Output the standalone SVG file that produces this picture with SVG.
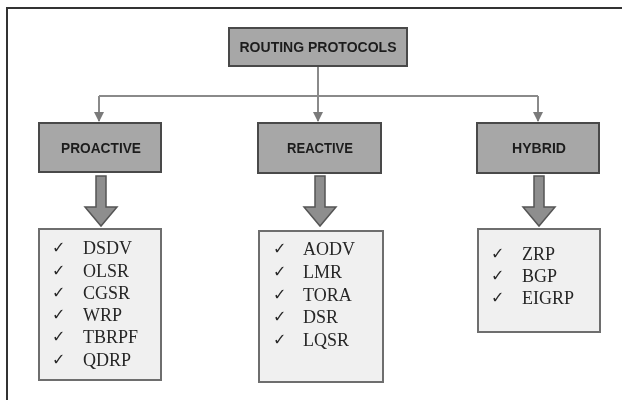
<svg xmlns="http://www.w3.org/2000/svg" width="622" height="403" viewBox="0 0 622 403">
  <defs>
    <marker id="tip" viewBox="0 0 10 10" refX="9" refY="5" markerWidth="5" markerHeight="5" orient="auto" markerUnits="strokeWidth">
      <path d="M0,0 L10,5 L0,10 z" fill="#7a7a7a"/>
    </marker>
    <filter id="soft" x="-5%" y="-5%" width="110%" height="110%">
      <feGaussianBlur stdDeviation="0.35"/>
    </filter>
  </defs>
  <style>
    .frame { stroke: #333; stroke-width: 2; fill: none; }
    .head { fill: #a7a7a7; stroke: #4a4a4a; stroke-width: 2; }
    .headtxt { font-family: "Liberation Sans", Arial, sans-serif; font-weight: bold; font-size: 14px; fill: #1e1e1e; text-anchor: middle; }
    .list { fill: #f0f0f0; stroke: #6e6e6e; stroke-width: 2; }
    .item { font-family: "Liberation Serif", "Times New Roman", serif; font-size: 18px; fill: #262626; }
    .tick { font-family: "DejaVu Sans", sans-serif; font-size: 16px; font-weight: bold; fill: #262626; }
    .link { stroke: #8a8a8a; stroke-width: 2; fill: none; }
    .fat { fill: #8e8e8e; stroke: #555; stroke-width: 1.5; }
  </style>

  <rect width="622" height="403" fill="#ffffff"/>

  <!-- page frame: top rule and left rule -->
  <path class="frame" d="M7,400 L7,8 L622,8"/>

  <g filter="url(#soft)">
    <!-- connectors -->
    <g id="connectors">
      <path class="link" d="M318,66 L318,96"/>
      <path class="link" d="M99,96 L538,96"/>
      <path class="link" d="M99,96 L99,121" marker-end="url(#tip)"/>
      <path class="link" d="M318,96 L318,121" marker-end="url(#tip)"/>
      <path class="link" d="M538,96 L538,121" marker-end="url(#tip)"/>
      <path class="fat" d="M96,176 L106,176 L106,207 L117,207 L101,226 L85,207 L96,207 z"/>
      <path class="fat" d="M315,176 L325,176 L325,207 L336,207 L320,226 L304,207 L315,207 z"/>
      <path class="fat" d="M534,176 L544,176 L544,207 L555,207 L539,226 L523,207 L534,207 z"/>
    </g>

    <!-- root -->
    <g id="routing-protocols">
      <rect class="head" x="229" y="28" width="178" height="38"/>
      <text class="headtxt" x="318" y="52" font-size="15" textLength="157" lengthAdjust="spacingAndGlyphs">ROUTING PROTOCOLS</text>
    </g>

    <!-- category headers -->
    <g id="proactive">
      <rect class="head" x="39" y="123" width="122" height="49"/>
      <text class="headtxt" x="101" y="153" font-size="15" textLength="80" lengthAdjust="spacingAndGlyphs">PROACTIVE</text>
    </g>
    <g id="reactive">
      <rect class="head" x="258" y="123" width="123" height="50"/>
      <text class="headtxt" x="320" y="153" font-size="15" textLength="66" lengthAdjust="spacingAndGlyphs">REACTIVE</text>
    </g>
    <g id="hybrid">
      <rect class="head" x="477" y="123" width="122" height="50"/>
      <text class="headtxt" x="539" y="153" font-size="15" textLength="54" lengthAdjust="spacingAndGlyphs">HYBRID</text>
    </g>

    <!-- protocol lists -->
    <g id="proactive-list">
      <rect class="list" x="39" y="229" width="122" height="151"/>
      <g class="tick">
        <text x="52" y="253">✓</text><text x="52" y="276">✓</text><text x="52" y="298">✓</text>
        <text x="52" y="320">✓</text><text x="52" y="342">✓</text><text x="52" y="365">✓</text>
      </g>
      <g class="item">
        <text x="83" y="254">DSDV</text><text x="83" y="277">OLSR</text><text x="83" y="299">CGSR</text>
        <text x="83" y="321">WRP</text><text x="83" y="343">TBRPF</text><text x="83" y="366">QDRP</text>
      </g>
    </g>
    <g id="reactive-list">
      <rect class="list" x="259" y="231" width="124" height="151"/>
      <g class="tick">
        <text x="273" y="254">✓</text><text x="273" y="277">✓</text><text x="273" y="300">✓</text>
        <text x="273" y="322">✓</text><text x="273" y="345">✓</text>
      </g>
      <g class="item">
        <text x="303" y="255">AODV</text><text x="303" y="278">LMR</text><text x="303" y="301">TORA</text>
        <text x="303" y="323">DSR</text><text x="303" y="346">LQSR</text>
      </g>
    </g>
    <g id="hybrid-list">
      <rect class="list" x="478" y="229" width="122" height="103"/>
      <g class="tick">
        <text x="491" y="259">✓</text><text x="491" y="281">✓</text><text x="491" y="303">✓</text>
      </g>
      <g class="item">
        <text x="522" y="260">ZRP</text><text x="522" y="282">BGP</text><text x="522" y="304">EIGRP</text>
      </g>
    </g>
  </g>
</svg>
